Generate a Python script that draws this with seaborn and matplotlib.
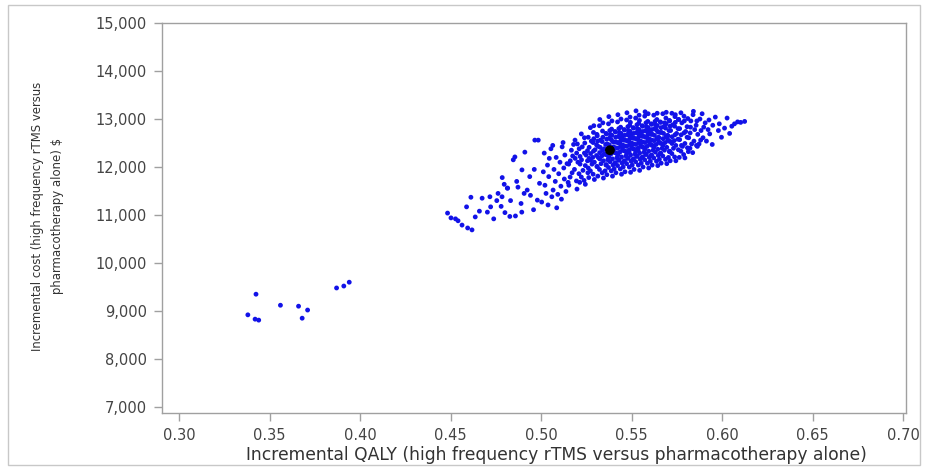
import matplotlib
matplotlib.use("Agg")
import matplotlib.pyplot as plt
import seaborn as sns
import pandas as pd
from matplotlib.patches import Rectangle

# Probabilistic sensitivity analysis: incremental QALY vs incremental cost
# (high frequency rTMS versus pharmacotherapy alone)

low_outliers = [
    (0.338, 8920), (0.342, 8830), (0.3425, 9350), (0.344, 8810), (0.356, 9120),
    (0.366, 9100), (0.368, 8850), (0.371, 9020), (0.387, 9480), (0.391, 9520),
    (0.394, 9600),
]

tail_far = [
    (0.4483, 11040), (0.4502, 10940), (0.4527, 10920), (0.4541, 10880), (0.4563, 10790),
    (0.4594, 10730), (0.4588, 11170), (0.4612, 11370), (0.4636, 10960), (0.4659, 11080),
    (0.4674, 11350), (0.4618, 10690),
]

tail_mid = [
    (0.4703, 11060), (0.4717, 11380), (0.4721, 11170), (0.4738, 10920), (0.4755, 11300),
    (0.4762, 11450), (0.4779, 11180), (0.4784, 11380), (0.4796, 11640), (0.4800, 11050),
    (0.4813, 11560), (0.4827, 10970), (0.4831, 11300), (0.4858, 10980), (0.4865, 11700),
    (0.4872, 11580), (0.4889, 11240), (0.4894, 11940), (0.4906, 11450), (0.4910, 12310),
    (0.4923, 11520), (0.4937, 11800), (0.4941, 11410), (0.4958, 11110), (0.4962, 11950),
    (0.4979, 11310), (0.4984, 12560), (0.4991, 11660), (0.4846, 12150), (0.4785, 11780),
    (0.4965, 12560), (0.4855, 12210), (0.4893, 11060), (0.4815, 11560),
]

tail_near = [
    (0.5003, 11270), (0.5017, 12290), (0.5021, 11620), (0.5038, 11210), (0.5035, 12040),
    (0.5042, 11800), (0.5059, 11380), (0.5054, 12380), (0.5066, 11520), (0.5071, 11950),
    (0.5078, 11700), (0.5083, 12200), (0.5092, 11430), (0.5097, 11860), (0.5104, 12100),
    (0.5109, 11600), (0.5116, 12420), (0.5112, 11330), (0.5125, 11980), (0.5128, 11750),
    (0.5131, 12250), (0.5137, 11490), (0.5143, 12070), (0.5149, 11680), (0.5012, 11900),
    (0.5064, 12450), (0.5086, 11150), (0.5027, 11450), (0.5045, 12180), (0.5121, 12510),
]

core_515 = [
    (0.5153, 11620), (0.5167, 12350), (0.5171, 11880), (0.5188, 12180), (0.5195, 11710),
    (0.5152, 12060), (0.5179, 12470), (0.5184, 11950), (0.5196, 12290), (0.5160, 11790),
    (0.5203, 12100), (0.5187, 12560), (0.5161, 12130), (0.5198, 11540), (0.5174, 12230),
    (0.5209, 11860),
]

core_520 = [
    (0.5213, 11680), (0.5227, 12420), (0.5231, 11930), (0.5248, 12250), (0.5215, 12060),
    (0.5222, 11790), (0.5239, 12610), (0.5244, 12030), (0.5256, 12340), (0.5210, 12380),
    (0.5223, 12150), (0.5237, 11720), (0.5241, 12500), (0.5258, 11880), (0.5215, 12220),
    (0.5222, 12690), (0.5239, 12290), (0.5244, 11640), (0.5256, 12130), (0.5200, 12480),
]

core_525 = [
    (0.5263, 11780), (0.5277, 12540), (0.5281, 12060), (0.5298, 12360), (0.5265, 12180),
    (0.5272, 11920), (0.5289, 12720), (0.5294, 12100), (0.5306, 12460), (0.5260, 12620),
    (0.5273, 12280), (0.5287, 11850), (0.5291, 12590), (0.5308, 12010), (0.5265, 12410),
    (0.5272, 12820), (0.5289, 12330), (0.5294, 11740), (0.5306, 12240), (0.5260, 11980),
    (0.5273, 12140), (0.5287, 12510), (0.5291, 12860), (0.5308, 12680), (0.5285, 12200),
]

core_530 = [
    (0.5313, 11810), (0.5327, 12560), (0.5331, 12070), (0.5348, 12380), (0.5315, 12200),
    (0.5322, 11950), (0.5339, 12750), (0.5344, 12130), (0.5356, 12470), (0.5310, 12650),
    (0.5323, 12300), (0.5337, 11880), (0.5341, 12620), (0.5358, 12040), (0.5315, 12430),
    (0.5322, 12860), (0.5339, 12350), (0.5344, 11770), (0.5356, 12260), (0.5310, 12010),
    (0.5323, 12170), (0.5337, 12530), (0.5341, 12920), (0.5358, 12700), (0.5335, 12230),
    (0.5312, 12540), (0.5326, 12410), (0.5349, 12280), (0.5353, 11920), (0.5324, 12990),
]

core_535 = [
    (0.5363, 11840), (0.5377, 12600), (0.5381, 12110), (0.5398, 12420), (0.5365, 12250),
    (0.5372, 11990), (0.5389, 12790), (0.5394, 12170), (0.5406, 12520), (0.5360, 12690),
    (0.5373, 12350), (0.5387, 11920), (0.5391, 12660), (0.5408, 12080), (0.5365, 12480),
    (0.5372, 12900), (0.5389, 12390), (0.5394, 11810), (0.5406, 12300), (0.5360, 12050),
    (0.5373, 12210), (0.5387, 12570), (0.5391, 12960), (0.5408, 12740), (0.5385, 12270),
    (0.5362, 12580), (0.5376, 12460), (0.5399, 12330), (0.5403, 11960), (0.5374, 13050),
    (0.5368, 12150), (0.5382, 12680), (0.5395, 12530), (0.5401, 12410), (0.5379, 12760),
    (0.5397, 12040),
]

core_540 = [
    (0.5413, 11880), (0.5427, 12640), (0.5431, 12150), (0.5448, 12460), (0.5415, 12290),
    (0.5422, 12030), (0.5439, 12830), (0.5444, 12210), (0.5456, 12560), (0.5410, 12730),
    (0.5423, 12390), (0.5437, 11960), (0.5441, 12700), (0.5458, 12120), (0.5415, 12520),
    (0.5422, 12940), (0.5439, 12430), (0.5444, 11850), (0.5456, 12340), (0.5410, 12090),
    (0.5423, 12250), (0.5437, 12610), (0.5441, 13000), (0.5458, 12780), (0.5435, 12310),
    (0.5412, 12620), (0.5426, 12500), (0.5449, 12370), (0.5453, 12000), (0.5424, 13090),
    (0.5418, 12190), (0.5432, 12720), (0.5445, 12570), (0.5451, 12450), (0.5429, 12800),
    (0.5447, 12080), (0.5411, 12400), (0.5434, 12520), (0.5452, 12650), (0.5428, 12140),
]

core_545 = [
    (0.5463, 11900), (0.5477, 12680), (0.5481, 12190), (0.5498, 12500), (0.5465, 12330),
    (0.5472, 12070), (0.5489, 12870), (0.5494, 12250), (0.5506, 12600), (0.5460, 12770),
    (0.5473, 12430), (0.5487, 12000), (0.5491, 12740), (0.5508, 12160), (0.5465, 12560),
    (0.5472, 12980), (0.5489, 12470), (0.5494, 11890), (0.5506, 12380), (0.5460, 12130),
    (0.5473, 12290), (0.5487, 12650), (0.5491, 13040), (0.5508, 12820), (0.5485, 12350),
    (0.5462, 12660), (0.5476, 12540), (0.5499, 12410), (0.5503, 12040), (0.5474, 13130),
    (0.5468, 12230), (0.5482, 12760), (0.5495, 12610), (0.5501, 12490), (0.5479, 12840),
    (0.5497, 12120), (0.5461, 12440), (0.5484, 12560), (0.5502, 12690), (0.5478, 12180),
    (0.5493, 12930), (0.5486, 12310),
]

core_550 = [
    (0.5513, 11950), (0.5527, 12720), (0.5531, 12230), (0.5548, 12540), (0.5515, 12370),
    (0.5522, 12110), (0.5539, 12910), (0.5544, 12290), (0.5556, 12640), (0.5510, 12810),
    (0.5523, 12470), (0.5537, 12040), (0.5541, 12780), (0.5558, 12200), (0.5515, 12600),
    (0.5522, 13020), (0.5539, 12510), (0.5544, 11930), (0.5556, 12420), (0.5510, 12170),
    (0.5523, 12330), (0.5537, 12690), (0.5541, 13080), (0.5558, 12860), (0.5535, 12390),
    (0.5512, 12700), (0.5526, 12580), (0.5549, 12450), (0.5553, 12080), (0.5524, 13170),
    (0.5518, 12270), (0.5532, 12800), (0.5545, 12650), (0.5551, 12530), (0.5529, 12880),
    (0.5547, 12160), (0.5511, 12480), (0.5534, 12600), (0.5552, 12730), (0.5528, 12220),
    (0.5543, 12970), (0.5536, 12350),
]

core_555 = [
    (0.5563, 12000), (0.5577, 12760), (0.5581, 12270), (0.5598, 12580), (0.5565, 12410),
    (0.5572, 12150), (0.5589, 12950), (0.5594, 12330), (0.5606, 12680), (0.5560, 12850),
    (0.5573, 12510), (0.5587, 12080), (0.5591, 12820), (0.5608, 12240), (0.5565, 12640),
    (0.5572, 13060), (0.5589, 12550), (0.5594, 11980), (0.5606, 12460), (0.5560, 12210),
    (0.5573, 12370), (0.5587, 12730), (0.5591, 13110), (0.5608, 12900), (0.5585, 12430),
    (0.5562, 12740), (0.5576, 12620), (0.5599, 12490), (0.5603, 12120), (0.5574, 13150),
    (0.5568, 12310), (0.5582, 12840), (0.5595, 12690), (0.5601, 12570), (0.5579, 12920),
    (0.5597, 12200), (0.5561, 12520), (0.5584, 12640), (0.5602, 12770), (0.5578, 12260),
]

core_560 = [
    (0.5613, 12040), (0.5627, 12800), (0.5631, 12310), (0.5648, 12620), (0.5615, 12450),
    (0.5622, 12190), (0.5639, 12990), (0.5644, 12370), (0.5656, 12720), (0.5610, 12890),
    (0.5623, 12550), (0.5637, 12120), (0.5641, 12860), (0.5658, 12280), (0.5615, 12680),
    (0.5622, 13080), (0.5639, 12590), (0.5644, 12030), (0.5656, 12500), (0.5610, 12250),
    (0.5623, 12410), (0.5637, 12770), (0.5641, 13120), (0.5658, 12940), (0.5635, 12470),
    (0.5612, 12780), (0.5626, 12660), (0.5649, 12530), (0.5653, 12160), (0.5618, 12350),
    (0.5632, 12880), (0.5645, 12730), (0.5651, 12610), (0.5629, 12950), (0.5647, 12240),
    (0.5611, 12560),
]

core_565 = [
    (0.5663, 12080), (0.5677, 12840), (0.5681, 12350), (0.5698, 12660), (0.5665, 12490),
    (0.5672, 12230), (0.5689, 13020), (0.5694, 12410), (0.5706, 12760), (0.5660, 12930),
    (0.5673, 12590), (0.5687, 12160), (0.5691, 12900), (0.5708, 12320), (0.5665, 12720),
    (0.5672, 13110), (0.5689, 12630), (0.5694, 12070), (0.5706, 12540), (0.5660, 12290),
    (0.5673, 12450), (0.5687, 12810), (0.5691, 13140), (0.5708, 12970), (0.5685, 12510),
    (0.5662, 12820), (0.5676, 12700), (0.5699, 12570), (0.5703, 12200), (0.5668, 12390),
    (0.5682, 12920), (0.5701, 12650),
]

core_570 = [
    (0.5713, 12130), (0.5727, 12880), (0.5731, 12390), (0.5748, 12700), (0.5715, 12530),
    (0.5722, 12280), (0.5739, 13050), (0.5744, 12450), (0.5756, 12800), (0.5710, 12960),
    (0.5723, 12630), (0.5737, 12210), (0.5741, 12930), (0.5758, 12360), (0.5715, 12760),
    (0.5722, 13120), (0.5739, 12670), (0.5744, 12130), (0.5756, 12580), (0.5710, 12330),
    (0.5723, 12490), (0.5737, 12850), (0.5741, 13090), (0.5758, 12990), (0.5735, 12550),
    (0.5712, 12850),
]

core_575 = [
    (0.5763, 12200), (0.5777, 12920), (0.5781, 12430), (0.5798, 12740), (0.5765, 12570),
    (0.5772, 12330), (0.5789, 13060), (0.5794, 12490), (0.5806, 12840), (0.5760, 12990),
    (0.5773, 12670), (0.5787, 12260), (0.5791, 12960), (0.5808, 12400), (0.5765, 12800),
    (0.5772, 13130), (0.5789, 12710), (0.5794, 12190), (0.5806, 12620), (0.5775, 12450),
]

core_580 = [
    (0.5813, 12320), (0.5827, 12960), (0.5831, 12480), (0.5848, 12780), (0.5815, 12610),
    (0.5822, 12390), (0.5839, 13090), (0.5844, 12540), (0.5856, 12870), (0.5810, 13010),
    (0.5823, 12710), (0.5837, 12300), (0.5841, 13160), (0.5858, 12450), (0.5825, 12830),
]

core_585 = [
    (0.5863, 12430), (0.5877, 13000), (0.5881, 12560), (0.5898, 12830), (0.5865, 12680),
    (0.5872, 12480), (0.5889, 13110), (0.5894, 12610), (0.5906, 12920), (0.5860, 12960),
    (0.5883, 12760),
]

right_edge = [
    (0.5913, 12540), (0.5927, 12980), (0.5931, 12690), (0.5948, 12870), (0.5945, 12470),
    (0.5962, 13040), (0.5979, 12760), (0.5984, 12900), (0.5996, 12620), (0.5922, 12780),
    (0.6013, 12810), (0.6027, 13020), (0.6041, 12700), (0.6068, 12900), (0.6085, 12940),
    (0.6102, 12930), (0.6124, 12950), (0.6053, 12850),
]

# Mean of the simulations
mean_qaly = [0.538]
mean_cost = [12350]

x_ticks = [0.30, 0.35, 0.40, 0.45, 0.50, 0.55, 0.60, 0.65, 0.70]
y_ticks = [7000, 8000, 9000, 10000, 11000, 12000, 13000, 14000, 15000]

groups = [low_outliers, tail_far, tail_mid, tail_near, core_515, core_520, core_525,
          core_530, core_535, core_540, core_545, core_550, core_555, core_560,
          core_565, core_570, core_575, core_580, core_585, right_edge]
sims = pd.DataFrame([p for g in groups for p in g], columns=["qaly", "cost"])
mean_df = pd.DataFrame({"qaly": mean_qaly, "cost": mean_cost})

sns.set_theme(style="white")
plt.rcParams["font.family"] = ["DejaVu Sans"]

fig = plt.figure(figsize=(9.27, 4.70), dpi=100)
ax = fig.add_axes([0.1748, 0.1213, 0.8025, 0.8297])

sns.scatterplot(data=sims, x="qaly", y="cost", ax=ax, s=12, marker="o",
                color="#1212e8", edgecolor="none", linewidth=0, legend=False)
sns.scatterplot(data=mean_df, x="qaly", y="cost", ax=ax, s=50, marker="o",
                color="black", edgecolor="none", legend=False, zorder=5)

ax.set_xlim(0.2906, 0.7015)
ax.set_ylim(6875, 15000)
ax.set_xticks(x_ticks)
ax.set_yticks(y_ticks)
ax.set_xticklabels([f"{v:.2f}" for v in x_ticks])
ax.set_yticklabels([f"{v:,}" for v in y_ticks])

for side in ["left", "bottom", "top", "right"]:
    ax.spines[side].set_visible(True)
    ax.spines[side].set_color("#a0a0a0")
    ax.spines[side].set_linewidth(1.0)

ax.tick_params(axis="both", which="major", direction="out", length=6, width=1,
               color="#a0a0a0", labelcolor="#444444", labelsize=10.5,
               left=True, bottom=True, pad=5)

ax.set_xlabel("Incremental QALY (high frequency rTMS versus pharmacotherapy alone)",
              fontsize=12.3, color="#333333")
ax.xaxis.set_label_coords(0.53, -0.085)
ax.set_ylabel("Incremental cost (high frequency rTMS versus\npharmacotherapy alone) $",
              fontsize=9.4, color="#333333", linespacing=1.7,
              family="DejaVu Sans", fontstretch="condensed")
ax.yaxis.set_label_coords(-0.132, 0.505)

# Light frame around the whole figure
fig.patches.append(Rectangle((8 / 927, 5 / 470), 912 / 927, 460 / 470,
                             transform=fig.transFigure, fill=False,
                             edgecolor="#c8c8c8", linewidth=1.0))

fig.savefig("out.png", dpi=100, facecolor="white")
